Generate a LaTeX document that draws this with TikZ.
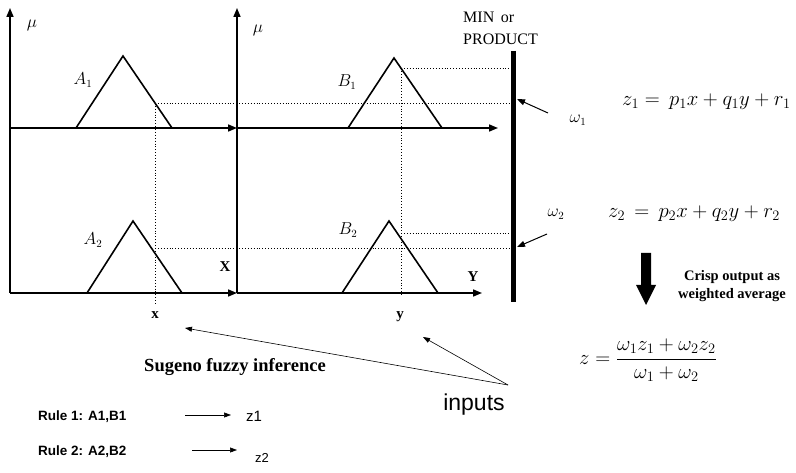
\documentclass[tikz,border=0pt]{standalone}
\usepackage{fontspec}
\setmainfont{Liberation Serif}
\setsansfont{Liberation Sans}
\usetikzlibrary{arrows.meta}
\begin{document}
\begin{tikzpicture}[x=1pt,y=-1pt,
  axis/.style={line width=1.6pt,-{Triangle[length=9pt,width=7pt]}},
  mf/.style={line width=1.6pt},
  guide/.style={line width=0.9pt,dotted},
  pointer/.style={line width=1pt,-{Triangle[length=8pt,width=6pt]}},
  thinptr/.style={line width=0.6pt,-{Triangle[length=7pt,width=5pt]}},
  lbl/.style={inner sep=0pt,font=\fontsize{16}{17}\selectfont},
  bserif/.style={inner sep=0pt,font=\bfseries\fontsize{15}{16}\selectfont},
  rule/.style={inner sep=0pt,anchor=west,font=\sffamily\bfseries\fontsize{13.5}{14}\selectfont}]
\useasboundingbox (0,0) rectangle (796,473);
\fill[white] (0,0) rectangle (796,473);
% coordinates
\coordinate (o1) at (10,293);
\coordinate (yA) at (10,8);
\coordinate (o2) at (237,293);
\coordinate (yB) at (237,8);
\coordinate (xA1) at (237,128);
\coordinate (xB1) at (498,128);
\coordinate (xA2) at (237,293);
\coordinate (xB2) at (482,293);
\coordinate (r1s) at (10,128);
\coordinate (r1m) at (237,128);
% axes
\draw[axis] (o1) -- (yA);
\draw[axis] (o2) -- (yB);
\draw[axis] (r1s) -- (xA1);
\draw[axis] (r1m) -- (xB1);
\draw[axis] (o1) -- (xA2);
\draw[axis] (o2) -- (xB2);
% membership functions
\draw[mf] (76,128) -- (123,56) -- (172,128);
\draw[mf] (348,128) -- (394,58) -- (442,128);
\draw[mf] (87,293) -- (133,221) -- (182,293);
\draw[mf] (342,293) -- (389,221) -- (438,293);
% bar
\coordinate (barT) at (513,51);
\coordinate (barB) at (513,302);
\draw[line width=5pt] (barT) -- (barB);
% dotted guides
\coordinate (gx1) at (155,103);
\coordinate (gx2) at (155,248);
\coordinate (gy1) at (401,68);
\coordinate (gy2) at (401,233);
\draw[guide] (gx1) -- (155,305);
\draw[guide] (gy1) -- (401,295);
\draw[guide] (gx1) -- (511,103);
\draw[guide] (gx2) -- (511,248);
\draw[guide] (gy1) -- (511,68);
\draw[guide] (gy2) -- (511,233);
% labels
\node[lbl] (mu1) at (32,25) {$\mu$};
\node[lbl] (mu2) at (258,30) {$\mu$};
\node[lbl] (lA1) at (83,80) {$A_1$};
\node[lbl] (lB1) at (347,82) {$B_1$};
\node[lbl] (lA2) at (93,240) {$A_2$};
\node[lbl] (lB2) at (348,230) {$B_2$};
\node[bserif] (lX) at (225,267) {X};
\node[bserif] (lY) at (473,277) {Y};
\node[bserif] (lx) at (155,315) {x};
\node[bserif] (ly) at (400,317) {y};
\node[inner sep=0pt,anchor=north west,align=left,font=\fontsize{16}{22}\selectfont] (minp) at (463,12) {MIN\, or\\PRODUCT};
% omegas
\node[lbl] (w1) at (578,120) {$\omega_1$};
\node[lbl] (w2) at (556,214) {$\omega_2$};
\coordinate (w1s) at (548,113);
\coordinate (w1e) at (517,99);
\coordinate (w2s) at (547,234);
\coordinate (w2e) at (517,247);
\draw[pointer] (w1s) -- (w1e);
\draw[pointer] (w2s) -- (w2e);
% equations
\node[lbl,anchor=west,font=\fontsize{19.5}{20}\selectfont] (eq1) at (622,102) {$z_1 = \,p_1x + q_1y + r_1$};
\node[lbl,anchor=west,font=\fontsize{19.5}{20}\selectfont] (eq2) at (608,214) {$z_2 \,=\, p_2x + q_2y + r_2$};
% big arrow
\fill (641,253) -- (651,253) -- (651,285) -- (656,285) -- (646,305) -- (636,285) -- (641,285) -- cycle;
\node[inner sep=0pt,align=center,font=\bfseries\fontsize{14.5}{18}\selectfont] (crisp) at (732,286) {Crisp output as\\weighted average};
\node[lbl,font=\fontsize{20.5}{21}\selectfont] (zeq) at (648,360) {$z = \displaystyle\frac{\omega_1 z_1 + \omega_2 z_2}{\omega_1 + \omega_2}$};
% bottom texts
\node[inner sep=0pt,font=\bfseries\fontsize{18.5}{19}\selectfont] (sug) at (235,367) {Sugeno fuzzy inference};
\node[inner sep=0pt,font=\sffamily\fontsize{23}{24}\selectfont] (inp) at (474,405) {inputs};
\coordinate (apex) at (508,385);
\coordinate (tx) at (185,328);
\coordinate (ty) at (423,337);
\draw[thinptr] (apex) -- (tx);
\draw[thinptr] (apex) -- (ty);
\node[rule] (r1) at (38,417) {Rule 1: A1,B1};
\node[rule] (r2) at (38,452) {Rule 2: A2,B2};
\node[inner sep=0pt,anchor=west,font=\sffamily\fontsize{15}{16}\selectfont] (z1) at (246,416) {z1};
\node[inner sep=0pt,anchor=west,font=\sffamily\fontsize{13}{14}\selectfont] (z2) at (255,458) {z2};
\coordinate (a1s) at (185,415);
\coordinate (a1e) at (231,415);
\coordinate (a2s) at (192,450);
\coordinate (a2e) at (237,450);
\draw[thinptr] (a1s) -- (a1e);
\draw[thinptr] (a2s) -- (a2e);
\end{tikzpicture}
\end{document}
